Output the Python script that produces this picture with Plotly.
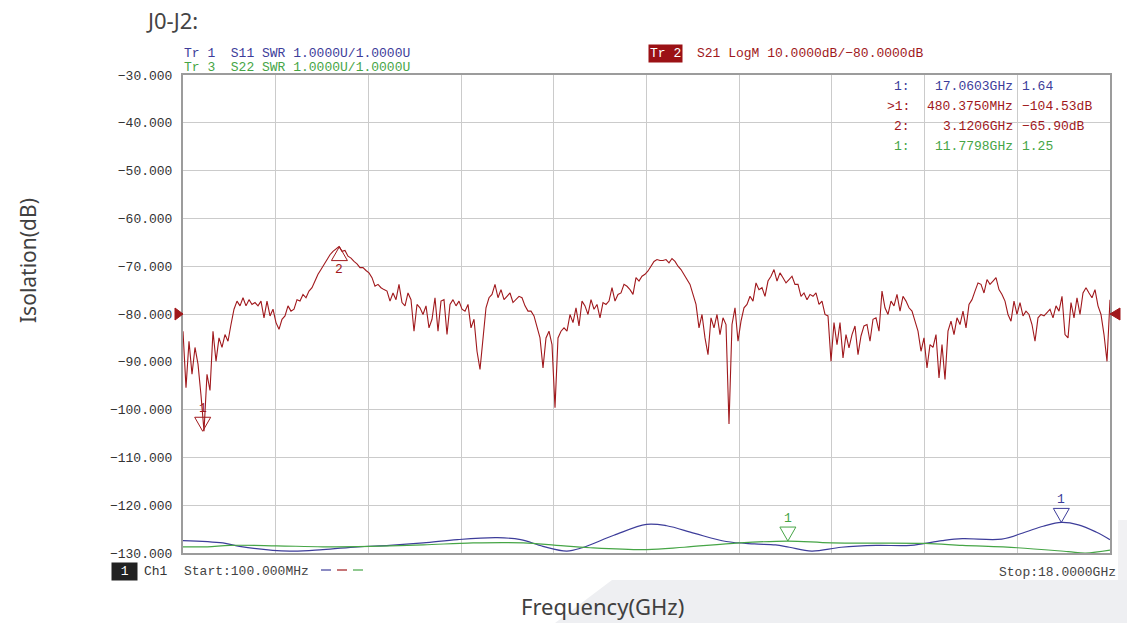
import numpy as np
import plotly.graph_objects as go

# ---------------- data ----------------
start_ghz, stop_ghz = 0.1, 18.0

# S21 LogM (dB), evenly spaced sweep points
s21_db = [
    -83.6, -95.4, -85.7, -92.6, -87.0, -90.5, -97.0, -104.5, -92.6, -96.0,
    -83.6, -89.9, -85.0, -87.0, -84.3, -85.7, -82.2, -79.0, -77.3, -78.3,
    -76.6, -78.3, -77.0, -78.0, -77.6, -78.3, -77.3, -80.8, -77.3, -80.4,
    -79.0, -81.8, -83.2, -81.1, -80.4, -78.3, -79.4, -79.0, -77.0, -77.3,
    -75.9, -76.6, -75.2, -74.5, -73.1, -71.7, -70.7, -69.7, -68.6, -67.6,
    -66.9, -66.3, -65.9, -66.9, -66.7, -67.9, -68.3, -69.0, -69.5, -70.3,
    -70.3, -70.9, -71.4, -72.4, -74.2, -73.8, -74.5, -74.9, -75.2, -77.3,
    -75.6, -77.0, -73.8, -77.6, -78.3, -75.6, -77.0, -83.6, -78.0, -78.7,
    -80.1, -78.3, -82.9, -81.1, -76.6, -83.6, -77.3, -77.0, -84.3, -78.0,
    -77.0, -78.3, -77.3, -79.0, -79.4, -78.0, -82.9, -81.1, -87.8, -91.6,
    -85.7, -78.7, -76.6, -75.9, -73.8, -76.6, -74.9, -77.0, -76.3, -75.6,
    -77.6, -77.0, -76.3, -76.6, -78.3, -79.4, -79.4, -80.4, -82.9, -85.0,
    -91.3, -85.0, -83.6, -86.4, -99.6, -85.0, -83.6, -82.9, -83.6, -80.1,
    -81.8, -78.7, -82.5, -77.3, -78.3, -80.1, -77.0, -79.0, -78.0, -80.8,
    -77.6, -78.0, -77.3, -74.5, -77.3, -75.9, -75.6, -73.8, -74.2, -74.9,
    -75.9, -72.4, -73.1, -72.1, -71.7, -71.0, -70.0, -69.0, -68.6, -68.8,
    -68.8, -68.6, -69.3, -68.4, -69.0, -70.0, -70.7, -71.7, -72.8, -73.8,
    -75.9, -78.0, -82.9, -80.1, -85.0, -88.5, -80.8, -82.9, -80.1, -84.3,
    -80.8, -82.2, -103.0, -82.2, -78.7, -85.7, -81.5, -78.7, -78.0, -76.3,
    -77.3, -73.5, -74.9, -74.5, -76.3, -73.1, -72.1, -70.7, -73.1, -71.4,
    -72.4, -73.5, -72.8, -72.1, -73.8, -73.8, -76.3, -75.6, -77.0, -75.9,
    -76.3, -75.6, -78.0, -77.3, -80.1, -80.4, -89.9, -81.8, -86.4, -81.8,
    -89.2, -84.3, -87.1, -84.3, -82.5, -88.5, -84.6, -82.5, -82.2, -85.7,
    -81.1, -80.8, -83.6, -75.2, -78.7, -80.1, -77.3, -78.3, -75.9, -79.4,
    -76.3, -77.3, -78.7, -79.4, -81.5, -83.6, -87.8, -85.0, -91.3, -86.4,
    -87.0, -84.3, -93.4, -86.4, -93.7, -83.6, -81.5, -84.3, -80.8, -82.2,
    -79.4, -82.9, -78.0, -77.0, -75.2, -73.5, -73.8, -75.6, -72.8, -73.8,
    -73.1, -72.4, -74.9, -75.9, -77.3, -80.1, -81.5, -77.3, -80.1, -77.6,
    -80.4, -79.4, -80.1, -82.2, -85.7, -80.8, -80.1, -80.4, -79.7, -79.0,
    -80.8, -78.3, -79.4, -76.3, -84.3, -85.0, -77.6, -80.8, -76.6, -80.1,
    -75.6, -74.5, -75.6, -76.6, -74.9, -78.3, -80.1, -84.3, -89.9, -77.0,
]

# S11 SWR (blue)
s11_freq = [0.1, 0.87, 1.19, 2.16, 2.80, 3.47, 4.09, 4.74, 5.40, 6.17, 6.62, 7.05,
            7.51, 7.81, 8.42, 9.05, 9.44, 9.98, 10.59, 11.13, 11.54, 11.81, 12.24,
            12.81, 13.49, 14.15, 14.76, 15.15, 15.91, 16.37, 16.71, 17.06, 17.39,
            17.73, 18.0]
s11_swr = [1.26, 1.21, 1.14, 1.04, 1.07, 1.13, 1.16, 1.21, 1.28, 1.32, 1.28, 1.14,
           1.04, 1.11, 1.37, 1.60, 1.57, 1.41, 1.24, 1.19, 1.17, 1.12, 1.04,
           1.12, 1.16, 1.16, 1.26, 1.30, 1.29, 1.44, 1.56, 1.64, 1.59,
           1.44, 1.28]

# S22 SWR (green)
s22_freq = [0.1, 0.57, 1.01, 1.91, 2.80, 3.72, 4.74, 5.70, 6.67, 7.31, 7.96, 9.05,
            9.78, 10.84, 11.78, 12.63, 14.42, 15.15, 16.21, 17.19, 17.53, 18.0]
s22_swr = [1.13, 1.13, 1.16, 1.15, 1.13, 1.14, 1.17, 1.21, 1.21, 1.16, 1.11, 1.07,
           1.12, 1.21, 1.25, 1.21, 1.20, 1.16, 1.11, 1.03, 1.00, 1.06]

# markers
s21_mk_freq = [0.480375, 3.1206]
s21_mk_val = [-104.53, -65.90]
s21_mk_label = ["1", "2"]
s11_mk_freq, s11_mk_val = 17.0603, 1.64
s22_mk_freq, s22_mk_val = 11.7798, 1.25

y_ticks = [-30, -40, -50, -60, -70, -80, -90, -100, -110, -120, -130]
y_ticktext = ["\u2212%d.000" % abs(v) for v in y_ticks]

# ---------------- style ----------------
RED = "#a0181c"
BLUE = "#3d3d9a"
GREEN = "#46a546"
MONO = "Liberation Mono"
SANS = "Noto Sans"

W, H = 1127, 623
PL, PR, PT, PB = 183, 1110, 75, 553


def px(x):
    return (x - PL) / (PR - PL)


def py(y):
    return (PB - y) / (PB - PT)


fig = go.Figure()

s21_freq = np.linspace(start_ghz, stop_ghz, len(s21_db))
fig.add_trace(go.Scatter(x=s11_freq, y=s11_swr, mode="lines", yaxis="y2",
                         line=dict(color=BLUE, width=1.2, shape="spline", smoothing=1.0),
                         hoverinfo="skip"))
fig.add_trace(go.Scatter(x=s22_freq, y=s22_swr, mode="lines", yaxis="y2",
                         line=dict(color=GREEN, width=1.2, shape="spline", smoothing=1.0),
                         hoverinfo="skip"))
fig.add_trace(go.Scatter(x=s21_freq, y=s21_db, mode="lines",
                         line=dict(color=RED, width=1.1), hoverinfo="skip"))

shapes = []
annotations = []

down_tri = "M -8 14 L 8 14 L 0 0 Z"
up_tri = "M -8 -14 L 8 -14 L 0 0 Z"


def marker(xv, yv, yref, color, label, down=True):
    shapes.append(dict(type="path", xref="x", yref=yref, xsizemode="pixel",
                       ysizemode="pixel", xanchor=xv, yanchor=yv,
                       path=down_tri if down else up_tri,
                       line=dict(color=color, width=1), fillcolor="rgba(0,0,0,0)"))
    annotations.append(dict(x=xv, y=yv, xref="x", yref=yref, text=label,
                            showarrow=False, yshift=23 if down else -23,
                            font=dict(family=MONO, size=13, color=color)))


marker(s21_mk_freq[0], s21_mk_val[0], "y", RED, s21_mk_label[0], True)
marker(s21_mk_freq[1], s21_mk_val[1], "y", RED, s21_mk_label[1], False)
marker(s11_mk_freq, s11_mk_val, "y2", BLUE, "1", True)
marker(s22_mk_freq, s22_mk_val, "y2", GREEN, "1", True)

# reference position triangles (-80 dB)
shapes.append(dict(type="path", xref="paper", yref="y", xsizemode="pixel", ysizemode="pixel",
                   xanchor=0, yanchor=-80, path="M -8 6 L 0 0 L -8 -6 Z",
                   fillcolor=RED, line=dict(color=RED, width=1)))
shapes.append(dict(type="path", xref="paper", yref="y", xsizemode="pixel", ysizemode="pixel",
                   xanchor=1, yanchor=-80, path="M 10 6 L 0 0 L 10 -6 Z",
                   fillcolor=RED, line=dict(color=RED, width=1)))
# stimulus arrow under the axis
shapes.append(dict(type="path", xref="x", yref="y", xsizemode="pixel", ysizemode="pixel",
                   xanchor=s22_mk_freq, yanchor=-130,
                   path="M 0 -3 L 0 -13 M -4 -7 L 0 -3 L 4 -7",
                   line=dict(color="#999999", width=1)))

# slide background pieces
shapes.append(dict(type="path", xref="paper", yref="paper", layer="below",
                   path="M %f %f L %f %f L %f %f L %f %f Z" % (
                       px(612), py(580), px(1127), py(580), px(1127), py(623), px(555), py(623)),
                   fillcolor="#eeeff2", line=dict(width=0)))
shapes.append(dict(type="rect", xref="paper", yref="paper", layer="below",
                   x0=px(1118), x1=px(1127), y0=py(580), y1=py(520),
                   fillcolor="#f1f1f3", line=dict(width=0)))

# trace colour key in the footer
for i, col in enumerate([BLUE, RED, GREEN]):
    x0 = 321 + i * 16
    shapes.append(dict(type="line", xref="paper", yref="paper",
                       x0=px(x0), x1=px(x0 + 10), y0=py(570), y1=py(570),
                       line=dict(color=col, width=1.2)))


def txt(x, y, text, color, anchor="left", size=13, family=MONO, bg=None):
    d = dict(x=px(x), y=py(y), xref="paper", yref="paper", text=text, showarrow=False,
             xanchor=anchor, yanchor="middle", font=dict(family=family, size=size, color=color))
    if bg:
        d["bgcolor"] = bg
    annotations.append(d)


# header lines
txt(182, 53, "Tr 1  S11 SWR 1.0000U/1.0000U", BLUE)
txt(182, 68, "Tr 3  S22 SWR 1.0000U/1.0000U", GREEN)
txt(648, 53, "Tr 2", "white", bg="#9b1115")
txt(695, 53, "S21 LogM 10.0000dB/\u221280.0000dB", RED)

# marker table
rows = [(87, "1:", "17.0603GHz", "1.64", BLUE),
        (107, "&gt;1:", "480.3750MHz", "\u2212104.53dB", RED),
        (127, "2:", "3.1206GHz", "\u221265.90dB", RED),
        (147, "1:", "11.7798GHz", "1.25", GREEN)]
for yy, a, b, c, col in rows:
    txt(912, yy, a, col, anchor="right")
    txt(1015, yy, b, col, anchor="right")
    txt(1020, yy, c, col, anchor="left")

# footer
txt(111, 571, " 1 ", "white", bg="#222222")
txt(142, 571, "Ch1", "#333333")
txt(182, 571, "Start:100.000MHz", "#444444")
txt(1118, 572, "Stop:18.0000GHz", "#444444", anchor="right")

# titles
txt(144, 20, "J0-J2:", "#444444", size=22, family=SANS)
txt(602, 606, "Frequency(GHz)", "#404040", anchor="center", size=22, family=SANS)
annotations.append(dict(x=px(28), y=py(261), xref="paper", yref="paper",
                        text="Isolation(dB)", showarrow=False, textangle=-90,
                        xanchor="center", yanchor="middle",
                        font=dict(family=SANS, size=21, color="#404040")))

fig.update_layout(
    width=W, height=H,
    margin=dict(l=PL, r=W - PR, t=PT, b=H - PB),
    paper_bgcolor="white", plot_bgcolor="white",
    showlegend=False,
    xaxis=dict(range=[start_ghz, stop_ghz], tick0=start_ghz, dtick=(stop_ghz - start_ghz) / 10,
               showticklabels=False, showgrid=True, gridcolor="#cbcbcb", gridwidth=1.3,
               zeroline=False, showline=True, mirror=True, linecolor="#9c9c9c", linewidth=2,
               ticks=""),
    yaxis=dict(range=[-130, -30], tickvals=y_ticks, ticktext=y_ticktext,
               showgrid=True, gridcolor="#cbcbcb", gridwidth=1.3, zeroline=False,
               showline=True, mirror=True, linecolor="#9c9c9c", linewidth=2, ticks="",
               ticklabelstandoff=6,
               tickfont=dict(family=MONO, size=13, color="#333333")),
    yaxis2=dict(range=[1, 11], overlaying="y", visible=False),
    shapes=shapes,
    annotations=annotations,
)

fig.write_html("out.html", config={"displayModeBar": False},
               post_script="document.body.style.margin='0';document.body.style.overflow='hidden';")
